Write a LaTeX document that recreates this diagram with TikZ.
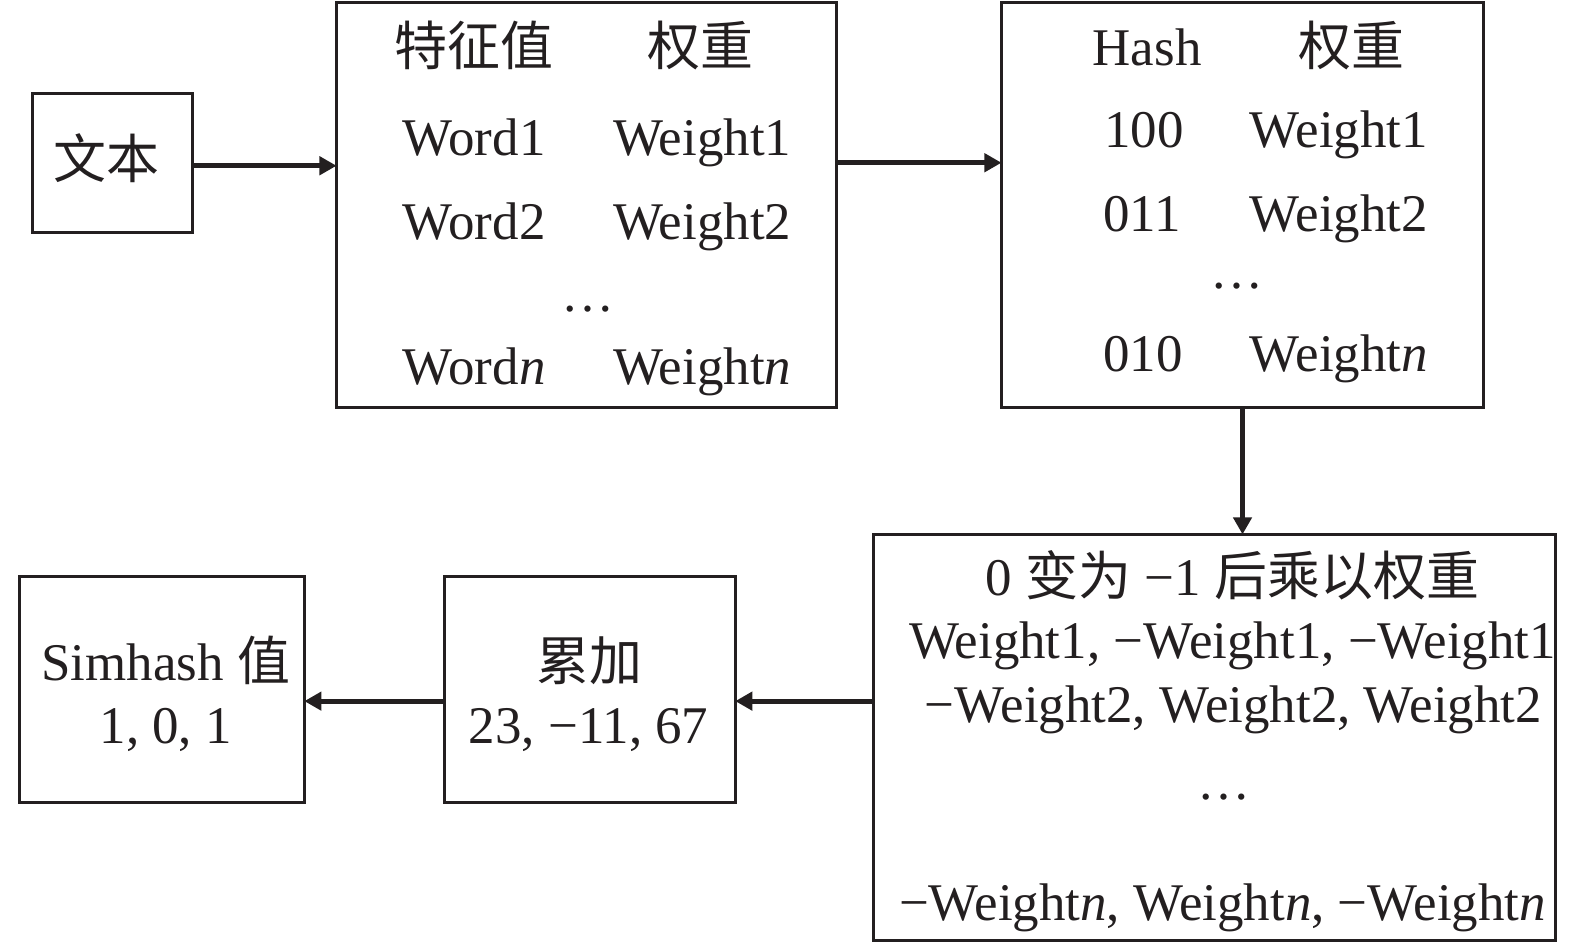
\documentclass[tikz,border=0pt]{standalone}
\usepackage{fontspec}
\setmainfont{Liberation Serif}
\newfontfamily\zhfont{Noto Sans CJK SC}
\newcommand{\zh}[1]{{\zhfont #1}}
\usepackage{tikz}
\usetikzlibrary{arrows.meta, positioning}
\definecolor{ink}{HTML}{231F20}
\tikzset{
    box/.style={rectangle, draw=ink, line width=1.7pt, inner sep=0pt, outer sep=0pt},
    txt/.style={inner sep=0pt, anchor=base, text=ink, font=\fontsize{30}{35}\selectfont},
    arrow/.style={-{Triangle[length=0.34cm, width=0.36cm]}, line width=2.8pt, draw=ink}
}

\begin{document}
\begin{tikzpicture}[x=0.02cm, y=-0.02cm]
    \useasboundingbox (0,0) rectangle (1568,938);

    % Boxes
    \node[box, minimum width=3.2cm, minimum height=2.76cm] (doc) at (112,162) {};
    \node[box, minimum width=9.96cm, minimum height=8.08cm] (feat) at (584,204) {};
    \node[box, minimum width=9.6cm, minimum height=8.08cm] (hashbox) at (1237,204) {};
    \node[box, minimum width=13.58cm, minimum height=8.08cm] (signed) at (1209.5,734) {};
    \node[box, minimum width=5.8cm, minimum height=4.5cm] (accum) at (587,686.5) {};
    \node[box, minimum width=5.68cm, minimum height=4.5cm] (simhash) at (161,686.5) {};

    % Text
    \node[txt] (doclbl) at (106,178) {\zh{文本}};

    % Features and weights
    \node[txt] (feathd) at (472,65) {\zh{特征值}};
    \node[txt] (wthd) at (697,65) {\zh{权重}};
    \node[txt] (word1) at (472,155) {Word1};
    \node[txt] (wt1) at (699,155) {Weight1};
    \node[txt] (word2) at (472,238) {Word2};
    \node[txt] (wt2) at (699,238) {Weight2};
    \node[txt] (featdots) at (585,310) {…};
    \node[txt] (wordn) at (472,383) {Word\textit{n}};
    \node[txt] (wtn) at (699,383) {Weight\textit{n}};

    % Hash and weights
    \node[txt] (hashhd) at (1142,65) {Hash};
    \node[txt] (hwthd) at (1345,65) {\zh{权重}};
    \node[txt] (h1) at (1139,147) {100};
    \node[txt] (hw1) at (1333,147) {Weight1};
    \node[txt] (h2) at (1137,230) {011};
    \node[txt] (hw2) at (1333,230) {Weight2};
    \node[txt] (hashdots) at (1231,287) {…};
    \node[txt] (hn) at (1138,370) {010};
    \node[txt] (hwn) at (1333,370) {Weight\textit{n}};

    % Signed weights
    \node[txt] (signhd) at (1227,593) {0 \zh{变为} −1 \zh{后乘以权重}};
    \node[txt] (sign1) at (1227,656) {Weight1, −Weight1, −Weight1};
    \node[txt] (sign2) at (1228,719) {−Weight2, Weight2, Weight2};
    \node[txt] (signdots) at (1219,796) {…};
    \node[txt] (signn) at (1217,916) {−Weight\textit{n}, Weight\textit{n}, −Weight\textit{n}};

    % Sum and result
    \node[txt] (accumhd) at (587,677) {\zh{累加}};
    \node[txt] (accumval) at (586,740) {23, −11, 67};
    \node[txt] (simhd) at (165,677) {Simhash \zh{值}};
    \node[txt] (simval) at (165,740) {1, 0, 1};

    % Arrows
    \coordinate (lowrow) at (0,698);
    \draw[arrow] (doc.east |- 0,165) -- (feat.west |- 0,165);
    \draw[arrow] (feat.east |- 0,162) -- (hashbox.west |- 0,162);
    \draw[arrow] (hashbox.south) -- (hashbox.south |- signed.north);
    \draw[arrow] (signed.west |- lowrow) -- (accum.east |- lowrow);
    \draw[arrow] (accum.west |- lowrow) -- (simhash.east |- lowrow);
\end{tikzpicture}
\end{document}
